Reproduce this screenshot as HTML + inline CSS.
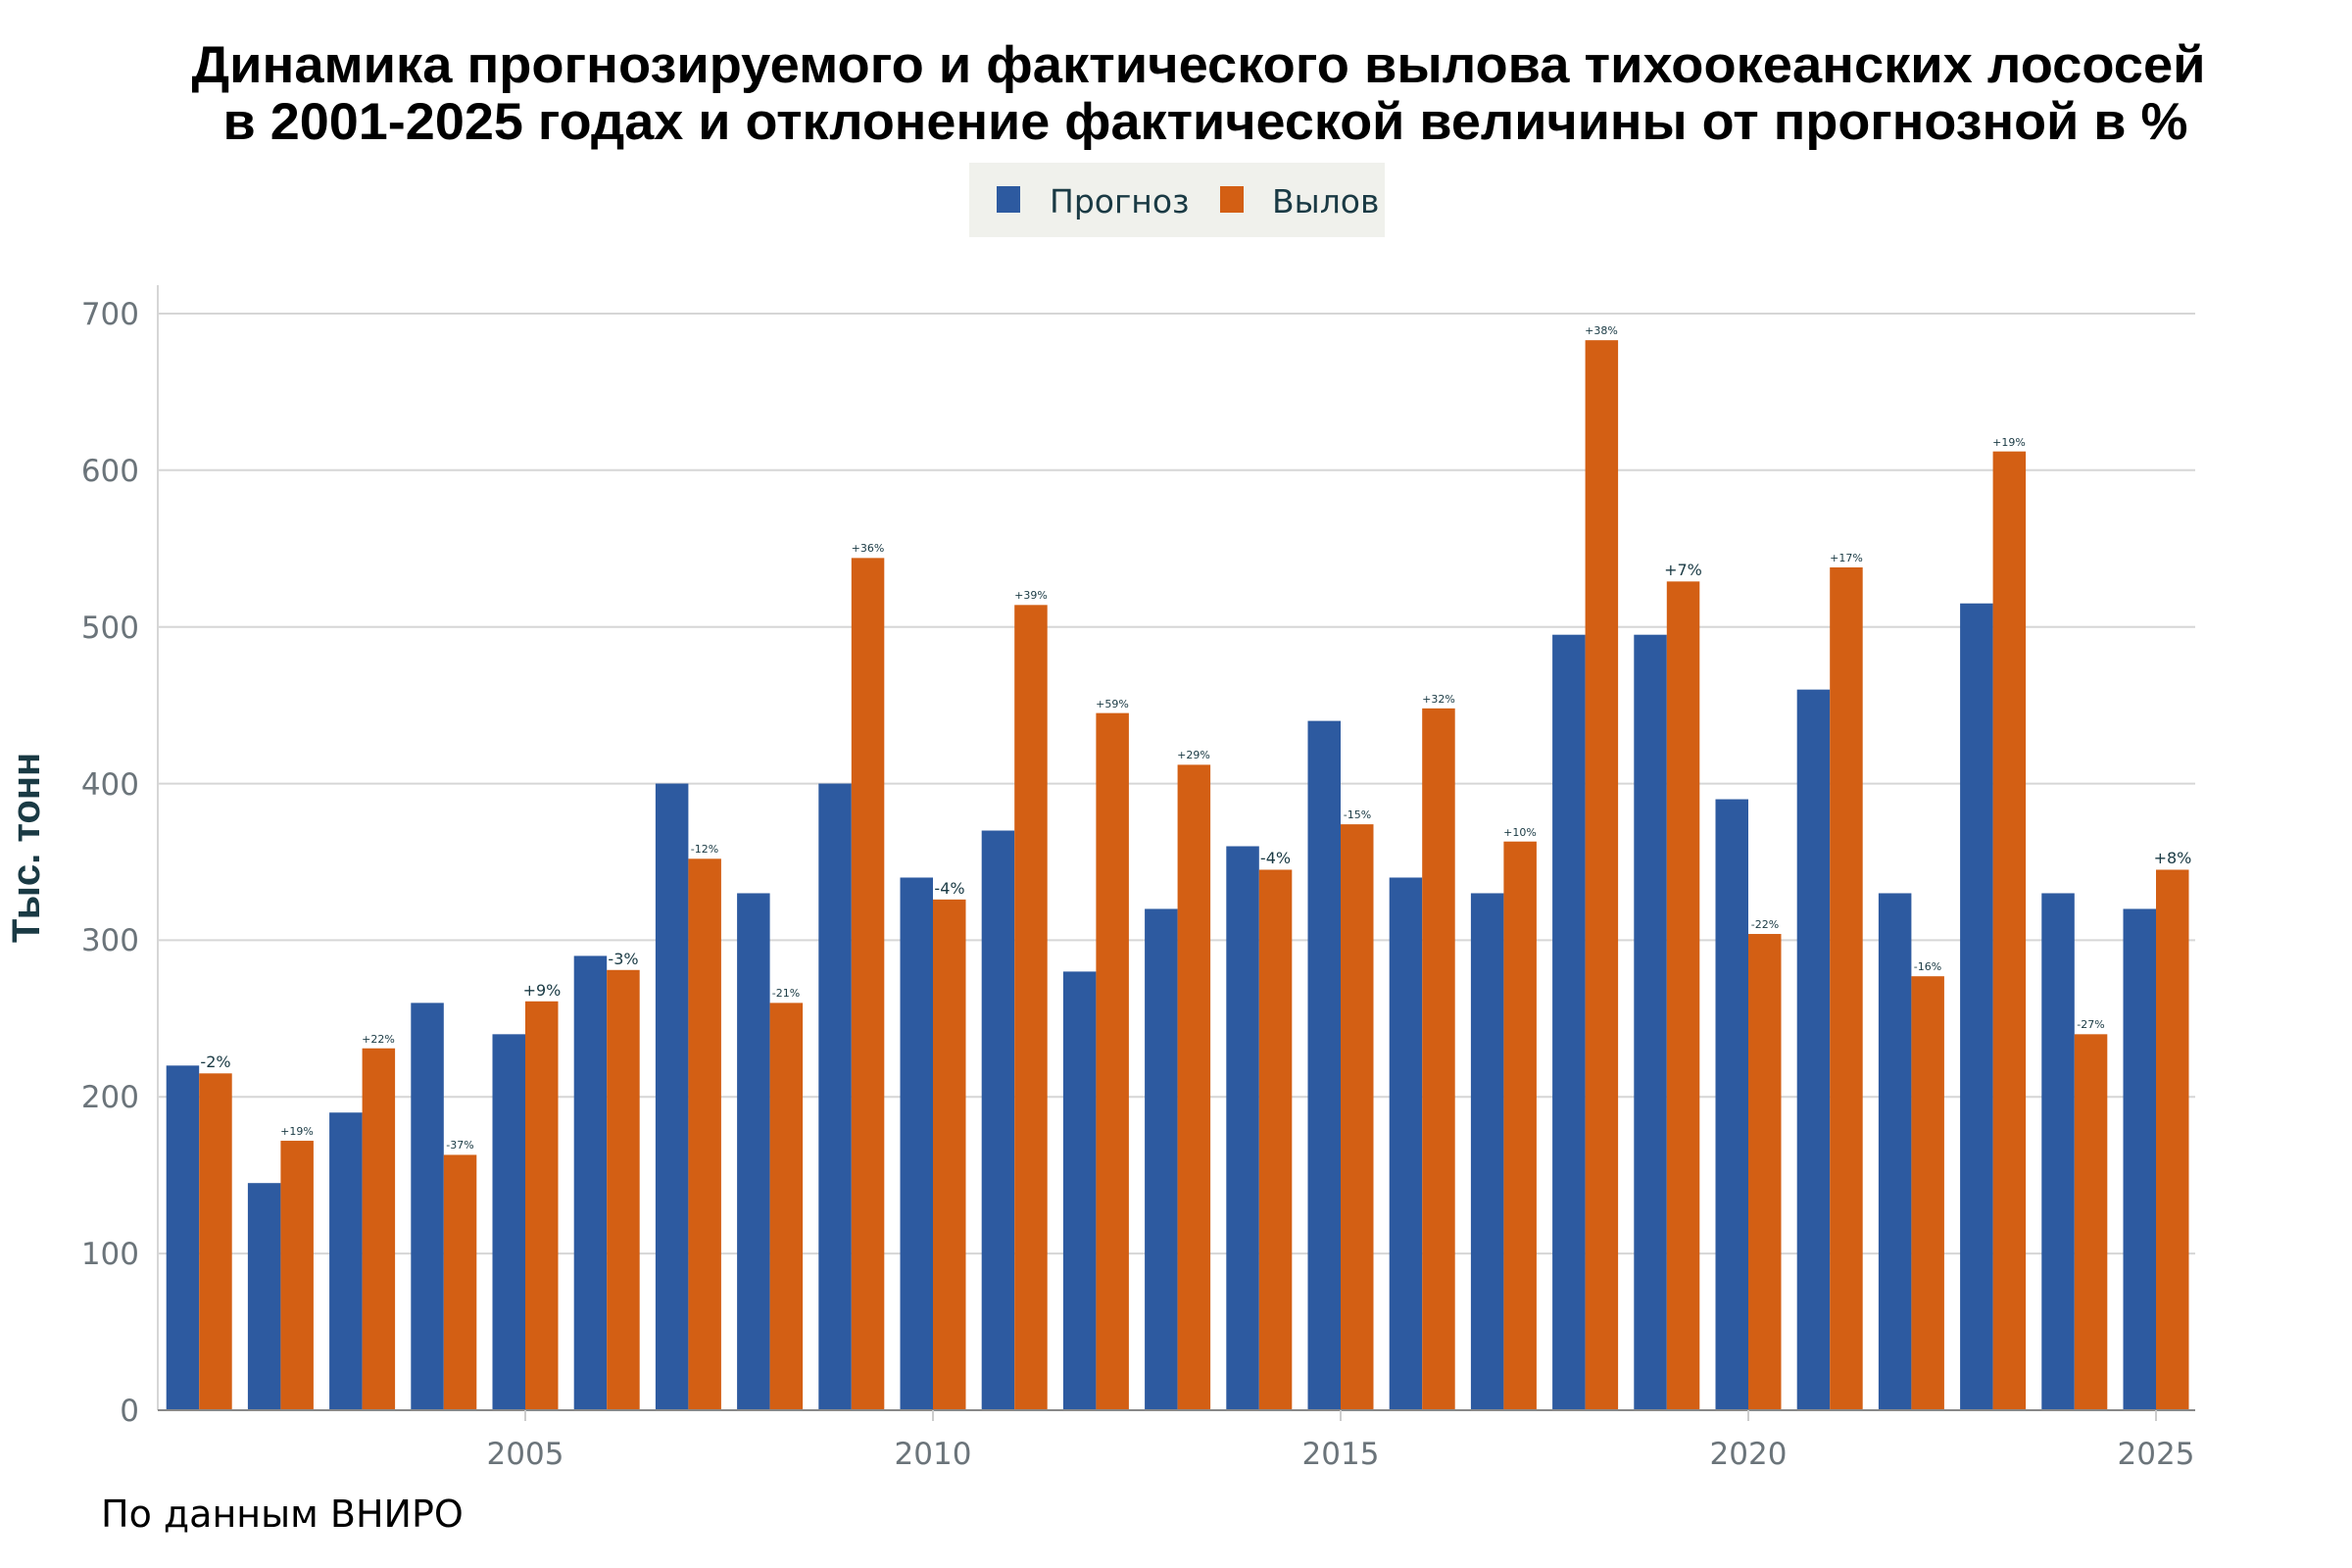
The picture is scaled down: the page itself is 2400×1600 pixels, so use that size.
<!DOCTYPE html>
<html><head><meta charset="utf-8"><style>
html,body{margin:0;padding:0;background:#fff;}
svg{display:block;}
</style></head><body>
<svg width="2400" height="1600" xmlns="http://www.w3.org/2000/svg">
<rect width="2400" height="1600" fill="#fff"/>
<g font-family="'Liberation Sans','DejaVu Sans',sans-serif" font-weight="bold" fill="#000" text-anchor="middle">
<text x="1223" y="84" font-size="53" textLength="2055" lengthAdjust="spacingAndGlyphs">Динамика прогнозируемого и фактического вылова тихоокеанских лососей</text>
<text x="1230" y="142" font-size="53" textLength="2005" lengthAdjust="spacingAndGlyphs">в 2001-2025 годах и отклонение фактической величины от прогнозной в %</text>
</g>
<rect x="989" y="166" width="424" height="76" fill="#f0f1ec"/>
<rect x="1017" y="190" width="24" height="27" fill="#2d5aa0"/>
<rect x="1245" y="190" width="24" height="27" fill="#d35f14"/>
<g font-family="'DejaVu Sans',sans-serif" font-size="33" fill="#1a3a44">
<text x="1071" y="217">Прогноз</text>
<text x="1298" y="217">Вылов</text>
</g>
<g stroke="#d6d6d6" stroke-width="2">
<line x1="161" x2="2240" y1="1279.1" y2="1279.1"/>
<line x1="161" x2="2240" y1="1119.3" y2="1119.3"/>
<line x1="161" x2="2240" y1="959.4" y2="959.4"/>
<line x1="161" x2="2240" y1="799.6" y2="799.6"/>
<line x1="161" x2="2240" y1="639.7" y2="639.7"/>
<line x1="161" x2="2240" y1="479.8" y2="479.8"/>
<line x1="161" x2="2240" y1="320" y2="320"/>
<line x1="161" x2="161" y1="291" y2="1439"/>
</g>
<g font-family="'DejaVu Sans','Liberation Sans',sans-serif" font-size="31" fill="#6b747a" text-anchor="end">
<text x="142" y="1450">0</text>
<text x="142" y="1290">100</text>
<text x="142" y="1130">200</text>
<text x="142" y="970">300</text>
<text x="142" y="811">400</text>
<text x="142" y="651">500</text>
<text x="142" y="491">600</text>
<text x="142" y="331">700</text>
</g>
<g transform="translate(0,1439) scale(1,-1.5986)">
<g fill="#2d5aa0">
<rect x="169.7" width="33.5" height="220"/>
<rect x="252.9" width="33.5" height="145"/>
<rect x="336.1" width="33.5" height="190"/>
<rect x="419.3" width="33.5" height="260"/>
<rect x="502.5" width="33.5" height="240"/>
<rect x="585.7" width="33.5" height="290"/>
<rect x="668.9" width="33.5" height="400"/>
<rect x="752.1" width="33.5" height="330"/>
<rect x="835.3" width="33.5" height="400"/>
<rect x="918.5" width="33.5" height="340"/>
<rect x="1001.7" width="33.5" height="370"/>
<rect x="1084.9" width="33.5" height="280"/>
<rect x="1168.1" width="33.5" height="320"/>
<rect x="1251.3" width="33.5" height="360"/>
<rect x="1334.5" width="33.5" height="440"/>
<rect x="1417.7" width="33.5" height="340"/>
<rect x="1500.9" width="33.5" height="330"/>
<rect x="1584.1" width="33.5" height="495"/>
<rect x="1667.3" width="33.5" height="495"/>
<rect x="1750.5" width="33.5" height="390"/>
<rect x="1833.7" width="33.5" height="460"/>
<rect x="1916.9" width="33.5" height="330"/>
<rect x="2000.1" width="33.5" height="515"/>
<rect x="2083.3" width="33.5" height="330"/>
<rect x="2166.5" width="33.5" height="320"/>
</g>
<g fill="#d35f14">
<rect x="203.2" width="33.5" height="215"/>
<rect x="286.4" width="33.5" height="172"/>
<rect x="369.6" width="33.5" height="231"/>
<rect x="452.8" width="33.5" height="163"/>
<rect x="536" width="33.5" height="261"/>
<rect x="619.2" width="33.5" height="281"/>
<rect x="702.4" width="33.5" height="352"/>
<rect x="785.6" width="33.5" height="260"/>
<rect x="868.8" width="33.5" height="544"/>
<rect x="952" width="33.5" height="326"/>
<rect x="1035.2" width="33.5" height="514"/>
<rect x="1118.4" width="33.5" height="445"/>
<rect x="1201.6" width="33.5" height="412"/>
<rect x="1284.8" width="33.5" height="345"/>
<rect x="1368" width="33.5" height="374"/>
<rect x="1451.2" width="33.5" height="448"/>
<rect x="1534.4" width="33.5" height="363"/>
<rect x="1617.6" width="33.5" height="683"/>
<rect x="1700.8" width="33.5" height="529"/>
<rect x="1784" width="33.5" height="304"/>
<rect x="1867.2" width="33.5" height="538"/>
<rect x="1950.4" width="33.5" height="277"/>
<rect x="2033.6" width="33.5" height="612"/>
<rect x="2116.8" width="33.5" height="240"/>
<rect x="2200" width="33.5" height="345"/>
</g>
</g>
<line x1="161" x2="2240" y1="1439" y2="1439" stroke="#888" stroke-width="2"/>
<g stroke="#ccc" stroke-width="2">
<line x1="536" x2="536" y1="1439" y2="1450"/>
<line x1="952" x2="952" y1="1439" y2="1450"/>
<line x1="1368" x2="1368" y1="1439" y2="1450"/>
<line x1="1784" x2="1784" y1="1439" y2="1450"/>
<line x1="2200" x2="2200" y1="1439" y2="1450"/>
</g>
<g font-family="'DejaVu Sans','Liberation Sans',sans-serif" font-size="31" fill="#6b747a" text-anchor="middle">
<text x="536" y="1494">2005</text>
<text x="952" y="1494">2010</text>
<text x="1368" y="1494">2015</text>
<text x="1784" y="1494">2020</text>
<text x="2200" y="1494">2025</text>
</g>
<g font-family="'DejaVu Sans','Liberation Sans',sans-serif" font-size="11" fill="#1a3a44" text-anchor="middle">
<text x="220" y="1089" font-size="16">-2%</text>
<text x="303" y="1158">+19%</text>
<text x="386" y="1064">+22%</text>
<text x="469.5" y="1172">-37%</text>
<text x="553" y="1016" font-size="16">+9%</text>
<text x="636" y="984" font-size="16">-3%</text>
<text x="719" y="870">-12%</text>
<text x="802" y="1017">-21%</text>
<text x="885.5" y="563">+36%</text>
<text x="969" y="912" font-size="16">-4%</text>
<text x="1052" y="611">+39%</text>
<text x="1135" y="722">+59%</text>
<text x="1218" y="774">+29%</text>
<text x="1301.5" y="881" font-size="16">-4%</text>
<text x="1385" y="835">-15%</text>
<text x="1468" y="717">+32%</text>
<text x="1551" y="853">+10%</text>
<text x="1634" y="341">+38%</text>
<text x="1717.5" y="587" font-size="16">+7%</text>
<text x="1801" y="947">-22%</text>
<text x="1884" y="573">+17%</text>
<text x="1967" y="990">-16%</text>
<text x="2050" y="455">+19%</text>
<text x="2133.5" y="1049">-27%</text>
<text x="2217" y="881" font-size="16">+8%</text>
</g>
<text transform="translate(40,865) rotate(-90)" text-anchor="middle" font-family="'Liberation Sans','DejaVu Sans',sans-serif" font-weight="bold" font-size="40" fill="#1a3a44">Тыс. тонн</text>
<text x="103" y="1558" font-family="'DejaVu Sans','Liberation Sans',sans-serif" font-size="38" fill="#000">По данным ВНИРО</text>
</svg>
</body></html>
